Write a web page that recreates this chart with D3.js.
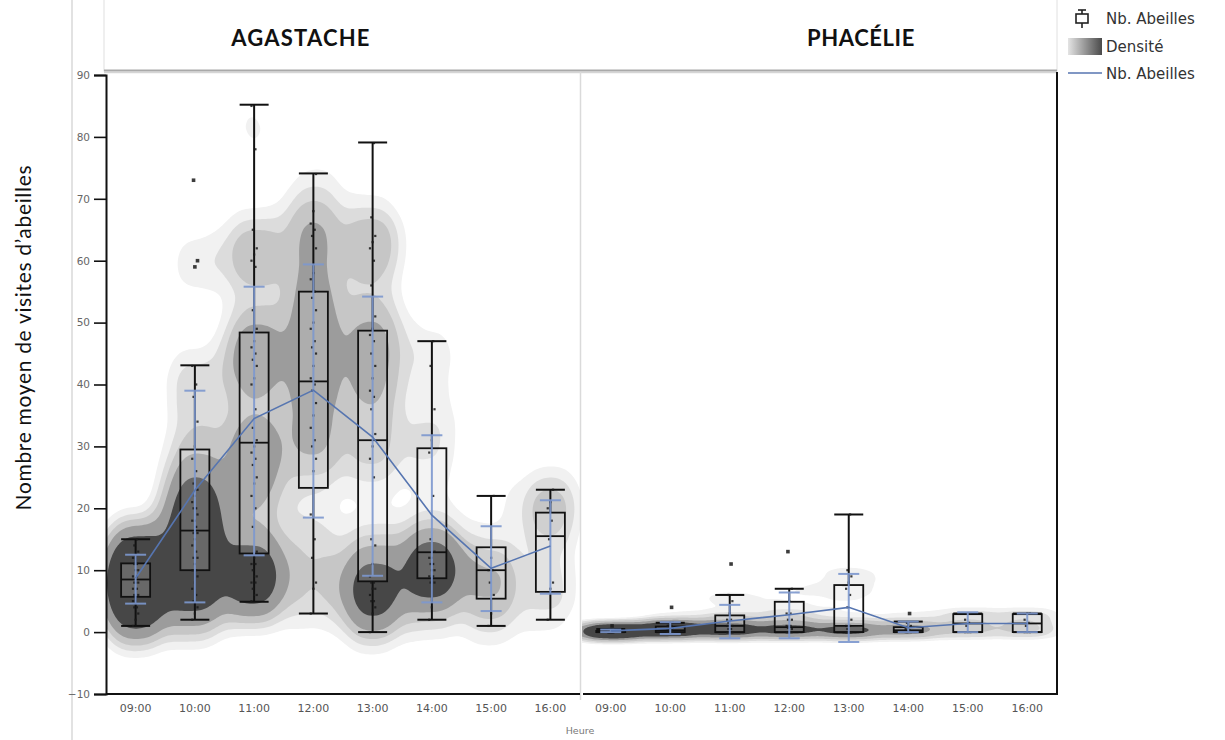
<!DOCTYPE html>
<html>
<head>
<meta charset="utf-8">
<script src="https://cdn.jsdelivr.net/npm/d3@7"></script>
<style>
  html, body { margin: 0; padding: 0; background: #fff; }
  svg { display: block; }
</style>
</head>
<body>
<svg id="chart" width="1225" height="740"></svg>
<script>
// ---------------- DATA ----------------
const hours = ["09:00","10:00","11:00","12:00","13:00","14:00","15:00","16:00"];
const panels = ["AGASTACHE","PHACÉLIE"];
const yTicks = [-10,0,10,20,30,40,50,60,70,80,90];

// Agastache – box statistics
const agaLo   = [1, 2, 4.9, 3, 0, 2, 1, 2];
const agaQ1   = [5.7, 10, 12.7, 23.3, 8.2, 8.7, 5.4, 6.5];
const agaMed  = [8.5, 16.4, 30.6, 40.5, 31, 12.9, 10, 15.5];
const agaQ3   = [11.1, 29.5, 48.4, 55, 48.7, 29.7, 13.7, 19.3];
const agaHi   = [15, 43.1, 85.2, 74.1, 79.1, 47, 22, 23];
const agaMean = [8.7, 22.9, 34.5, 39.1, 31.5, 18.9, 10.3, 13.9];
const agaCiLo = [4.6, 4.8, 12.4, 18.5, 9.1, 4.8, 3.4, 6.2];
const agaCiHi = [12.5, 39, 55.8, 59.4, 54.2, 31.8, 17.1, 21.3];

// Agastache – observations per hour
const aga09 = [1,2,3,4,4,5,5,6,6,7,7,8,8,8,9,9,10,10,11,11,12,12,13,14,15];
const aga10 = [2,3,4,5,6,7,8,9,10,10,10,11,12,12,13,14,15,16,16,17,18,18,19,20,20,21,22,23,24,26,28,30,34,38,40,43,59,60,73];
const aga11 = [5,6,6,7,8,8,9,9,10,11,11,12,13,17,20,22,24,25,27,28,29,30,31,33,36,40,41,43,44,45,46,47,49,52,59,60,61,62,65,78,85];
const aga12 = [3,7,8,12,15,19,26,28,30,31,33,35,37,39,40,41,43,45,46,47,49,50,52,54,55,57,58,62,64,65,66,68,74];
const aga13 = [0,3,4,5,5,6,7,7,8,8,9,11,14,15,25,28,30,32,36,38,39,41,43,45,47,48,49,51,56,60,62,63,64,67,79];
const aga14 = [2,4,8,8,9,9,10,10,11,11,12,12,13,15,22,29,31,36,43,47];
const aga15 = [1,3,6,8,10,10,12,22];
const aga16 = [2,7,8,15,18,20,21,23];

// Phacélie – box statistics
const phaLo   = [0, 0, 0, 0, 0, 0, 0, 0];
const phaQ1   = [0, 0, 0, 0, 0, 0, 0, 0];
const phaMed  = [0, 0.3, 1, 0.8, 1, 0.3, 1.4, 1.4];
const phaQ3   = [0.2, 0.9, 2.7, 4.9, 7.6, 0.8, 2.9, 2.9];
const phaHi   = [0.5, 1.5, 6, 7, 19, 1.7, 3, 3];
const phaMean = [0.2, 0.6, 1.8, 2.8, 4, 0.7, 1.4, 1.4];
const phaCiLo = [0, -0.3, -1, -1, -1.6, 0, 0, 0];
const phaCiHi = [0.4, 1.6, 4.4, 6.4, 9.4, 1.7, 3.2, 3];

// Phacélie – observations per hour
const pha09 = [0,0,0,0,0,0,0,0,0,0,0,0,0,0,0,0.3,0.3,0.5,0.5,1];
const pha10 = [0,0,0,0,0,0,0,0,0.3,0.3,0.5,0.5,0.7,1,1,1,1.5,1.5,1,4];
const pha11 = [0,0,0,0,0,0,0,0,0.5,0.5,1,1,1,1.5,2,2,3,5,6,11];
const pha12 = [0,0,0,0,0,0,0,0.5,0.7,1,1,1,2,2,3,3,5,7,13];
const pha13 = [0,0,0,0,0,0,0,0,0.5,1,1,1,2,4,6,7,8,9,10,19];
const pha14 = [0,0,0,0,0.3,0.5,0.7,1,1.5,3];
const pha15 = [0,0,0,1,1.5,2,3,3];
const pha16 = [0,0,0,1,1.5,2,3,3];

const legendLabels = ["Nb. Abeilles","Densité","Nb. Abeilles"];
const yTitle = "Nombre moyen de visites d’abeilles";
const xTitle = "Heure";

// ---------------- LAYOUT ----------------
const svg = d3.select("#chart");
const W = 1225, H = 740;
const plotTop = 75, plotBottom = 694;
const panelX = [[106, 580], [581, 1057]];
const densColors = ["#f1f1f1", "#dcdcdc", "#c6c6c6", "#9c9c9c", "#474747"];
const tickFont = "DejaVu Sans, Verdana, sans-serif";

const y = d3.scaleLinear().domain([-10, 90]).range([plotBottom, plotTop]);

const panelData = [
  {lo: agaLo, q1: agaQ1, med: agaMed, q3: agaQ3, hi: agaHi, mean: agaMean, ciLo: agaCiLo, ciHi: agaCiHi,
   pts: [aga09, aga10, aga11, aga12, aga13, aga14, aga15, aga16], k: 0.85, bw: 19.5,
   fracs: [0.075, 0.125, 0.18, 0.26, 0.42]},
  {lo: phaLo, q1: phaQ1, med: phaMed, q3: phaQ3, hi: phaHi, mean: phaMean, ciLo: phaCiLo, ciHi: phaCiHi,
   pts: [pha09, pha10, pha11, pha12, pha13, pha14, pha15, pha16], k: 4, bw: 21,
   fracs: [0.065, 0.12, 0.2, 0.33, 0.5]}
];

// page-left faint rule
svg.append("line").attr("x1", 72).attr("x2", 72).attr("y1", 0).attr("y2", H)
  .attr("stroke", "#e2e2e2").attr("stroke-width", 2);

// header strip
const hdr = svg.append("g");
hdr.append("rect").attr("x", 104).attr("y", -2).attr("width", 953).attr("height", 73)
  .attr("fill", "#fff").attr("stroke", "#e0e0e0").attr("stroke-width", 1);
hdr.append("line").attr("x1", 104).attr("x2", 1057).attr("y1", 70.5).attr("y2", 70.5)
  .attr("stroke", "#a9a9a9").attr("stroke-width", 2);
hdr.append("line").attr("x1", 104).attr("x2", 1057).attr("y1", 72.5).attr("y2", 72.5)
  .attr("stroke", "#d5d5d5").attr("stroke-width", 1.5);

const defs = svg.append("defs");

panelData.forEach((P, pi) => {
  const [x0, x1] = panelX[pi];
  const x = d3.scaleBand().domain(hours).range([x0, x1]).padding(0);
  const bw = x.bandwidth();
  const cx = h => x(h) + bw / 2;
  const y0 = y(0);

  defs.append("clipPath").attr("id", "clip" + pi)
    .append("rect").attr("x", x0 + 1).attr("y", plotTop).attr("width", x1 - x0 - 1).attr("height", plotBottom - plotTop);

  const g = svg.append("g");
  const gd = g.append("g").attr("clip-path", `url(#clip${pi})`);

  const pts = [];
  P.pts.forEach((arr, hi) => {
    arr.forEach((v, i) => {
      pts.push({h: hours[hi], hi, v, jit: ((i * 7) % 5 - 2) * 2.2});
    });
  });

  // density (pixel space, vertical stretched by k, then mapped back)
  const dens = d3.contourDensity()
    .x(d => cx(d.h) + d.jit)
    .y(d => y0 + (y(d.v) - y0) * P.k)
    .size([W, H + 200])
    .cellSize(2)
    .bandwidth(P.bw);
  const all = dens.thresholds(100)(pts);
  const maxV = d3.max(all, c => c.value);
  const cs = dens.thresholds(P.fracs.map(f => f * maxV))(pts);
  gd.append("g")
    .attr("transform", `translate(0,${y0}) scale(1,${1 / P.k}) translate(0,${-y0})`)
    .selectAll("path").data(cs).join("path")
    .attr("d", d3.geoPath())
    .attr("fill", (d, i) => densColors[i])
    .attr("stroke", "none");

  // boxes
  const boxW = 29, capW = 29, ciCapW = 21;
  const gb = g.append("g");
  hours.forEach((h, i) => {
    const c = cx(h);
    gb.append("line").attr("x1", c).attr("x2", c).attr("y1", y(P.hi[i])).attr("y2", y(P.q3[i]))
      .attr("stroke", "#111").attr("stroke-width", 2);
    gb.append("line").attr("x1", c).attr("x2", c).attr("y1", y(P.q1[i])).attr("y2", y(P.lo[i]))
      .attr("stroke", "#111").attr("stroke-width", 2);
    gb.append("line").attr("x1", c - capW / 2).attr("x2", c + capW / 2).attr("y1", y(P.hi[i])).attr("y2", y(P.hi[i]))
      .attr("stroke", "#111").attr("stroke-width", 2);
    gb.append("line").attr("x1", c - capW / 2).attr("x2", c + capW / 2).attr("y1", y(P.lo[i])).attr("y2", y(P.lo[i]))
      .attr("stroke", "#111").attr("stroke-width", 2);
    gb.append("rect").attr("x", c - boxW / 2).attr("y", y(P.q3[i]))
      .attr("width", boxW).attr("height", Math.max(1, y(P.q1[i]) - y(P.q3[i])))
      .attr("fill", "#fff").attr("fill-opacity", 0.18)
      .attr("stroke", "#111").attr("stroke-width", 1.8);
    gb.append("line").attr("x1", c - boxW / 2).attr("x2", c + boxW / 2).attr("y1", y(P.med[i])).attr("y2", y(P.med[i]))
      .attr("stroke", "#111").attr("stroke-width", 1.8);
  });

  // points
  g.append("g").selectAll("rect").data(pts).join("rect")
    .attr("x", d => cx(d.h) + d.jit * 0.6 - (d.v > P.hi[d.hi] ? 1.8 : 1.1))
    .attr("y", d => y(d.v) - (d.v > P.hi[d.hi] ? 1.8 : 1.1))
    .attr("width", d => d.v > P.hi[d.hi] ? 3.6 : 2.2)
    .attr("height", d => d.v > P.hi[d.hi] ? 3.6 : 2.2)
    .attr("fill", "#1a1a1a").attr("opacity", 0.85);

  // mean error bars
  const ge = g.append("g").attr("stroke", "#7d98cf").attr("stroke-width", 2).attr("opacity", 0.9);
  hours.forEach((h, i) => {
    const c = cx(h);
    ge.append("line").attr("x1", c).attr("x2", c).attr("y1", y(P.ciHi[i])).attr("y2", y(P.ciLo[i]));
    ge.append("line").attr("x1", c - ciCapW / 2).attr("x2", c + ciCapW / 2).attr("y1", y(P.ciHi[i])).attr("y2", y(P.ciHi[i]));
    ge.append("line").attr("x1", c - ciCapW / 2).attr("x2", c + ciCapW / 2).attr("y1", y(P.ciLo[i])).attr("y2", y(P.ciLo[i]));
  });

  // mean line
  g.append("path").datum(P.mean)
    .attr("fill", "none").attr("stroke", "#5675b0").attr("stroke-width", 1.6)
    .attr("d", d3.line().x((d, i) => cx(hours[i])).y(d => y(d)));

  // x axis labels
  const xa = g.append("g").attr("transform", `translate(0,${plotBottom})`)
    .call(d3.axisBottom(x).tickSize(0).tickPadding(10));
  xa.select(".domain").remove();
  xa.selectAll("text").attr("font-family", tickFont)
    .attr("font-size", 11).attr("fill", "#555");

  // panel title
  svg.append("text").attr("x", (x0 + x1) / 2 + (pi === 0 ? -42 : 42)).attr("y", 46)
    .attr("text-anchor", "middle").attr("font-family", "Lato, sans-serif").attr("font-weight", 700)
    .attr("font-size", 22).attr("letter-spacing", pi === 0 ? 1.2 : 0.6).attr("fill", "#111").text(panels[pi]);
});

// frame lines
svg.append("line").attr("x1", 580.5).attr("x2", 580.5).attr("y1", 72).attr("y2", plotBottom + 6)
  .attr("stroke", "#dadada").attr("stroke-width", 1.5);
svg.append("line").attr("x1", 106).attr("x2", 580).attr("y1", plotBottom).attr("y2", plotBottom)
  .attr("stroke", "#111").attr("stroke-width", 2);
svg.append("line").attr("x1", 583).attr("x2", 1057).attr("y1", plotBottom).attr("y2", plotBottom)
  .attr("stroke", "#111").attr("stroke-width", 2);
svg.append("line").attr("x1", 1057).attr("x2", 1057).attr("y1", 72).attr("y2", plotBottom + 1)
  .attr("stroke", "#111").attr("stroke-width", 2);

// y axis
const ya = svg.append("g").attr("transform", "translate(106,0)")
  .call(d3.axisLeft(y).tickValues(yTicks).tickSize(12).tickPadding(4));
ya.select(".domain").attr("stroke", "#111").attr("stroke-width", 2);
ya.selectAll(".tick line").attr("stroke", "#111").attr("stroke-width", 1.6);
ya.selectAll("text").attr("font-family", tickFont)
  .attr("font-size", 10.5).attr("fill", "#666");

// axis titles
svg.append("text").attr("transform", "translate(31,338) rotate(-90)")
  .attr("text-anchor", "middle").attr("font-family", "Lato, sans-serif")
  .attr("font-size", 21).attr("textLength", 345).attr("lengthAdjust", "spacing")
  .attr("fill", "#111").text(yTitle);
svg.append("text").attr("x", 580).attr("y", 734).attr("text-anchor", "middle")
  .attr("font-family", tickFont).attr("font-size", 9.5).attr("fill", "#777")
  .text(xTitle);

// legend
const lg = svg.append("g").attr("font-family", tickFont)
  .attr("font-size", 15).attr("fill", "#333");
lg.append("line").attr("x1", 1082).attr("x2", 1082).attr("y1", 10).attr("y2", 28).attr("stroke", "#222").attr("stroke-width", 1.6);
lg.append("line").attr("x1", 1078).attr("x2", 1086).attr("y1", 10).attr("y2", 10).attr("stroke", "#222").attr("stroke-width", 1.6);
lg.append("rect").attr("x", 1076).attr("y", 14).attr("width", 12).attr("height", 9)
  .attr("fill", "#fff").attr("stroke", "#222").attr("stroke-width", 1.6);
const grad = defs.append("linearGradient").attr("id", "densGrad");
grad.append("stop").attr("offset", "0%").attr("stop-color", "#e4e4e4");
grad.append("stop").attr("offset", "100%").attr("stop-color", "#4a4a4a");
lg.append("rect").attr("x", 1068).attr("y", 38).attr("width", 34).attr("height", 17).attr("fill", "url(#densGrad)");
lg.append("line").attr("x1", 1068).attr("x2", 1102).attr("y1", 73).attr("y2", 73)
  .attr("stroke", "#5675b0").attr("stroke-width", 1.6);
lg.append("text").attr("x", 1106).attr("y", 24).text(legendLabels[0]);
lg.append("text").attr("x", 1106).attr("y", 52).text(legendLabels[1]);
lg.append("text").attr("x", 1106).attr("y", 79).text(legendLabels[2]);
</script>
</body>
</html>
